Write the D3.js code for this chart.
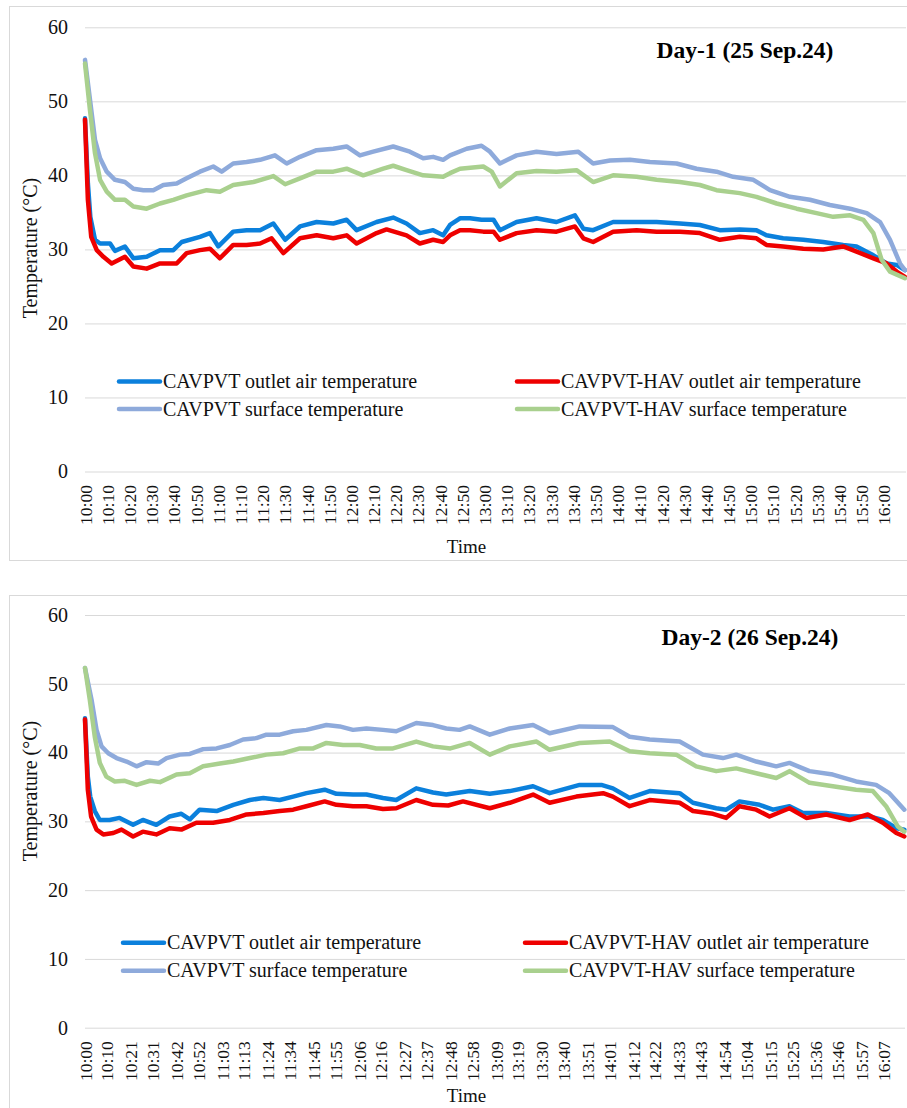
<!DOCTYPE html>
<html>
<head>
<meta charset="utf-8">
<script src="https://cdn.jsdelivr.net/npm/d3@7"></script>
<style>
  html, body { margin: 0; padding: 0; background: #ffffff; }
  svg { display: block; font-family: "Liberation Serif", "Times New Roman", serif; }
</style>
</head>
<body>
<script>
// ---- Series names (legend order) ----
const seriesNames = [
  "CAVPVT outlet air temperature",
  "CAVPVT-HAV outlet air temperature",
  "CAVPVT surface temperature",
  "CAVPVT-HAV surface temperature"
];

const yTickValues = [0, 10, 20, 30, 40, 50, 60];

// ---- Day 1 (25 Sep 2024): category labels and readings [minutes after 10:00, °C] ----
const day1Title = "Day-1 (25 Sep.24)";
const day1TickLabels = ["10:00","10:10","10:20","10:30","10:40","10:50","11:00","11:10","11:20","11:30",
  "11:40","11:50","12:00","12:10","12:20","12:30","12:40","12:50","13:00","13:10","13:20","13:30",
  "13:40","13:50","14:00","14:10","14:20","14:30","14:40","14:50","15:00","15:10","15:20","15:30",
  "15:40","15:50","16:00"];

const day1OutletCAVPVT = [[0,47.7],[1.3,38.9],[2.4,34.4],[4.5,31.3],[6.8,30.8],[11.3,30.8],[13.5,29.8],[18,30.4],
  [21.8,28.8],[27.8,29.0],[33.8,29.9],[39.8,29.9],[43.6,31.0],[51.8,31.7],[56.3,32.2],[60.1,30.4],[66.8,32.4],
  [72.8,32.6],[78.9,32.6],[84.9,33.5],[90.2,31.3],[96.9,33.1],[104.4,33.7],[111.9,33.5],[117.9,34.0],[122.4,32.6],
  [131.4,33.7],[138.9,34.3],[144.9,33.5],[150.9,32.2],[156.9,32.6],[161.4,31.9],[164.5,33.3],[169,34.2],[173.5,34.2],
  [178.7,34.0],[184.1,34.0],[187,32.6],[194.5,33.7],[203.5,34.2],[212.5,33.7],[220.8,34.6],[224.6,32.8],[229,32.6],
  [238,33.7],[248.6,33.7],[257.6,33.7],[268.1,33.5],[277.1,33.3],[286.1,32.6],[295.1,32.7],[302.6,32.6],[307.1,31.9],
  [314.6,31.5],[323.7,31.3],[332.7,31.0],[341.7,30.6],[347.7,30.4],[355.3,29.2],[361.3,28.1],[365.8,27.9],[369.5,27.2]];

const day1OutletHAV = [[0,47.5],[1.3,36.7],[2.8,31.7],[5.3,29.9],[8.3,29.0],[12,28.1],[18,29.0],[21.8,27.7],
  [27.8,27.4],[33.8,28.1],[41.3,28.1],[45.8,29.5],[51.8,29.9],[56.3,30.1],[60.8,28.8],[66.8,30.6],[72.8,30.6],
  [78.9,30.8],[84.1,31.5],[89.4,29.5],[96.9,31.5],[104.4,31.9],[111.9,31.5],[117.9,31.9],[122.4,30.8],[131.4,32.2],
  [135.9,32.7],[144.9,31.9],[150.9,30.8],[156.9,31.3],[161.4,31.0],[164.5,31.9],[169,32.6],[173.5,32.6],[179.5,32.4],
  [184.1,32.4],[187,31.3],[194.5,32.2],[203.5,32.6],[212.5,32.4],[220.8,33.1],[224.6,31.5],[229,31.0],[238,32.4],
  [248.6,32.6],[257.6,32.4],[268.1,32.4],[277.1,32.2],[286.1,31.3],[295.1,31.7],[302.6,31.5],[307.1,30.6],
  [314.6,30.4],[323.7,30.1],[332.7,30.0],[341.7,30.4],[347.7,29.7],[355.3,28.8],[361.3,28.1],[365.8,27.0],[369.5,26.3]];

const day1SurfaceCAVPVT = [[0,55.6],[2.25,50.2],[4.5,44.8],[6.8,42.3],[9.8,40.5],[13.5,39.4],[18,39.1],[21.8,38.2],
  [26.3,38.0],[30.8,38.0],[35.3,38.7],[41.3,38.9],[45.8,39.6],[51.8,40.5],[57.8,41.2],[61.6,40.5],[66.8,41.6],
  [72.8,41.8],[78.9,42.1],[85.6,42.7],[90.9,41.6],[96.9,42.5],[104.4,43.4],[111.9,43.6],[117.9,43.9],[123.9,42.7],
  [129.9,43.2],[138.9,43.9],[146.4,43.2],[152.4,42.3],[156.9,42.5],[161.4,42.1],[164.5,42.7],[172,43.6],[178.7,44.0],
  [182.5,43.2],[187,41.6],[194.5,42.7],[203.5,43.2],[212.5,42.9],[222.3,43.2],[229,41.6],[236.6,42.0],[245.6,42.1],
  [254.6,41.8],[266.6,41.6],[275.6,40.9],[284.6,40.5],[292.1,39.8],[301.2,39.4],[308.7,38.0],[317.7,37.1],
  [326.7,36.7],[335.7,36.0],[344.8,35.5],[352.3,34.9],[358.3,33.7],[362.8,31.3],[367.3,28.1],[369.5,27.2]];

const day1SurfaceHAV = [[0,55.1],[2.25,48.8],[4.5,43.0],[6.8,39.4],[9.8,37.8],[13.5,36.7],[18,36.7],[21.8,35.8],
  [27.8,35.5],[33.8,36.2],[39.8,36.7],[45.8,37.3],[54.8,38.0],[60.8,37.8],[66.8,38.7],[75.9,39.1],[84.9,39.9],
  [90.2,38.8],[96.9,39.6],[104.4,40.5],[111.9,40.5],[117.9,40.9],[125.4,40.0],[134.4,40.9],[138.9,41.3],[144.9,40.7],
  [152.4,40.0],[161.4,39.8],[164.5,40.3],[169,40.9],[179.5,41.2],[183.3,40.5],[187,38.5],[194.5,40.3],[203.5,40.6],
  [212.5,40.5],[221.5,40.7],[229,39.1],[238,40.0],[248.6,39.8],[257.6,39.4],[268.1,39.1],[277.1,38.7],[284.6,38.0],
  [295.1,37.6],[302.6,37.1],[311.7,36.2],[320.7,35.5],[329.7,34.9],[337.2,34.4],[344.8,34.6],[350.8,34.0],
  [355.3,32.2],[359,28.6],[362.8,27.0],[369.5,26.1]];

// ---- Day 2 (26 Sep 2024) ----
const day2Title = "Day-2 (26 Sep.24)";
const day2TickLabels = ["10:00","10:10","10:21","10:31","10:42","10:52","11:03","11:13","11:24","11:34",
  "11:45","11:55","12:06","12:16","12:27","12:37","12:48","12:58","13:09","13:19","13:30","13:40",
  "13:51","14:01","14:12","14:22","14:33","14:43","14:54","15:04","15:15","15:25","15:36","15:46",
  "15:57","16:07"];

const day2OutletCAVPVT = [[0,45.0],[1.3,36.5],[2.4,33.6],[4.5,31.5],[6.8,30.2],[11.3,30.2],[15.9,30.5],[22.1,29.5],
  [26.6,30.2],[32.8,29.5],[38.9,30.7],[44.3,31.1],[48.2,30.3],[52.7,31.7],[60.5,31.5],[68.2,32.4],[75.8,33.1],
  [82,33.4],[89.5,33.1],[95.7,33.6],[101.8,34.1],[110.2,34.6],[115.6,34.0],[123.2,33.9],[129.4,33.9],[137,33.4],
  [143.1,33.1],[152.3,34.8],[160,34.2],[166.1,33.9],[176.9,34.4],[186.1,34.0],[195.3,34.4],[206,35.1],[213.6,34.1],
  [227.4,35.3],[237.4,35.3],[242.7,34.8],[250.4,33.4],[259.6,34.4],[273.4,34.1],[279.5,32.7],[290.2,31.9],
  [294.8,31.7],[300.9,32.9],[310.1,32.4],[316.3,31.7],[323.9,32.2],[330.1,31.2],[340.8,31.2],[351.5,30.7],
  [360.7,30.7],[366.8,30.2],[373,29.0],[376.7,28.8]];

const day2OutletHAV = [[0,44.8],[1.3,34.6],[2.8,30.7],[5.3,28.8],[8.4,28.1],[13,28.3],[16.8,28.8],[22.1,27.8],
  [26.6,28.5],[32.8,28.1],[38.9,29.0],[44.3,28.8],[51.2,29.8],[58.9,29.8],[66.6,30.2],[74.3,31.0],[82,31.2],
  [89.5,31.5],[95.7,31.7],[101.8,32.2],[110.2,32.9],[115.6,32.4],[123.2,32.2],[129.4,32.2],[137,31.8],[143.1,31.9],
  [152.3,33.1],[160,32.4],[167,32.3],[173.8,32.9],[186.1,31.9],[195.3,32.7],[206,33.9],[213.6,32.7],[225.9,33.6],
  [238.2,34.1],[242.7,33.6],[250.4,32.2],[259.6,33.1],[273.4,32.7],[279.5,31.5],[288.7,31.1],[294.8,30.5],
  [300.9,32.2],[308.6,31.7],[314.7,30.7],[323.9,31.9],[331.6,30.5],[340.8,31.0],[351.5,30.2],[359.9,31.0],
  [366.8,29.8],[373,28.3],[376.7,27.8]];

const day2SurfaceCAVPVT = [[0,52.3],[3,47.7],[5.3,43.3],[7.6,40.9],[10.7,39.9],[14.5,39.2],[19.1,38.7],[23.7,38.0],
  [28.3,38.6],[33.6,38.4],[37.5,39.2],[43.6,39.7],[48.2,39.8],[54.3,40.5],[60.5,40.6],[66.6,41.1],[72.7,41.9],
  [78.8,42.1],[83.4,42.6],[89.5,42.6],[95.7,43.1],[101.8,43.3],[111,44.0],[117.1,43.8],[123.2,43.3],[129.4,43.5],
  [137,43.3],[143.1,43.1],[152.3,44.3],[160,44.0],[166.1,43.5],[172.2,43.3],[176.9,43.8],[186.1,42.6],[195.3,43.5],
  [206,44.0],[213.6,42.8],[227.4,43.8],[242.7,43.7],[250.4,42.3],[259.6,41.9],[273.4,41.6],[284.1,39.7],
  [293.3,39.2],[299.4,39.7],[308.6,38.7],[317.8,38.0],[323.9,38.5],[333.1,37.3],[343.8,36.8],[354.5,35.8],
  [363.7,35.3],[369.8,34.1],[376.7,31.7]];

const day2SurfaceHAV = [[0,52.3],[2.2,47.7],[4.5,42.3],[6.8,38.5],[9.8,36.5],[13.7,35.8],[18.3,35.9],[23.7,35.3],
  [29.9,35.9],[34.5,35.7],[42.1,36.8],[48.2,37.0],[54.3,38.0],[62,38.4],[68.2,38.7],[75.8,39.2],[83.4,39.7],
  [91.1,39.9],[98.8,40.6],[104.9,40.6],[111,41.4],[118.6,41.1],[126.3,41.1],[133.9,40.6],[141.6,40.6],[152.3,41.6],
  [160,40.9],[168,40.6],[176.9,41.4],[186.1,39.7],[195.3,40.9],[207.6,41.6],[213.6,40.4],[227.4,41.4],[241.2,41.6],
  [250.4,40.2],[259.6,39.9],[271.8,39.7],[281,38.0],[290.2,37.3],[299.4,37.7],[308.6,37.0],[317.8,36.3],
  [323.9,37.3],[333.1,35.6],[343.8,35.1],[354.5,34.6],[362.2,34.4],[368.3,32.2],[373.6,29.3],[376.7,28.5]];

// ---- Styling ----
const seriesColors = ["#0b80dc", "#ee0000", "#8eaadb", "#a9d08e"];
const gridColor = "#d9d9d9";
const textColor = "#111111";

const W = 907, H = 1108;
const svg = d3.select("body").append("svg").attr("width", W).attr("height", H);
svg.append("rect").attr("width", W).attr("height", H).attr("fill", "#ffffff");

// minutes after 10:00 for an "HH:MM" label
const toMinutes = s => { const [h, m] = s.split(":").map(Number); return (h - 10) * 60 + m; };

function drawPanel(p) {
  const g = svg.append("g");

  // chart frame
  g.append("rect")
    .attr("x", p.frame.x).attr("y", p.frame.y)
    .attr("width", p.frame.w).attr("height", p.frame.h)
    .attr("fill", "none").attr("stroke", gridColor).attr("stroke-width", 1);

  const x = d3.scaleLinear().domain([0, p.endMinute]).range([p.left, p.right]);
  const y = d3.scaleLinear().domain([0, 60]).range([p.zeroY, p.topY]);

  // value axis with horizontal gridlines
  const yAxis = g.append("g")
    .attr("transform", `translate(${p.left},0)`)
    .call(d3.axisLeft(y).tickValues(yTickValues).tickFormat(d3.format("d"))
      .tickSizeInner(-(p.right - p.left)).tickSizeOuter(0).tickPadding(17));
  yAxis.select(".domain").remove();
  yAxis.selectAll(".tick line").attr("stroke", gridColor).attr("stroke-width", 1);
  yAxis.selectAll(".tick text")
    .attr("fill", textColor).style("font-size", "20px")
    .style("font-family", "'Liberation Serif', 'Times New Roman', serif");

  // category axis with rotated time labels
  const xAxis = g.append("g")
    .attr("transform", `translate(0,${p.zeroY})`)
    .call(d3.axisBottom(x)
      .tickValues(p.tickLabels.map(toMinutes))
      .tickFormat((d, i) => p.tickLabels[i])
      .tickSize(0));
  xAxis.select(".domain").remove();
  xAxis.selectAll(".tick text")
    .attr("transform", "rotate(-90)")
    .attr("text-anchor", "end")
    .attr("x", -13.5).attr("y", 0).attr("dy", "0.35em")
    .attr("fill", textColor).style("font-size", "17.5px")
    .style("font-family", "'Liberation Serif', 'Times New Roman', serif");

  // series lines
  const line = d3.line().x(d => x(d[0])).y(d => y(d[1]));
  p.series.forEach((s, i) => {
    g.append("path")
      .datum(s)
      .attr("d", line)
      .attr("fill", "none")
      .attr("stroke", seriesColors[i])
      .attr("stroke-width", 4.5)
      .attr("stroke-linejoin", "round")
      .attr("stroke-linecap", "round");
  });

  // title
  g.append("text")
    .attr("x", p.titleX).attr("y", p.titleY)
    .attr("text-anchor", "middle")
    .attr("fill", "#000").style("font-size", "23.5px").style("font-weight", "bold")
    .text(p.title);

  // axis titles
  g.append("text")
    .attr("transform", `translate(30,${p.yTitleY}) rotate(-90)`)
    .attr("text-anchor", "middle").attr("dy", "0.35em")
    .attr("fill", textColor).style("font-size", "20px")
    .text("Temperature (°C)");

  g.append("text")
    .attr("x", 466.5).attr("y", p.xTitleY)
    .attr("text-anchor", "middle")
    .attr("fill", textColor).style("font-size", "19px")
    .text("Time");

  // legend: two rows, two columns
  const legendCols = [p.legendX1, p.legendX2];
  const legendRows = [p.legendY1, p.legendY2];
  seriesNames.forEach((name, i) => {
    const lx = legendCols[i % 2];
    const ly = legendRows[Math.floor(i / 2)];
    g.append("line")
      .attr("x1", lx).attr("x2", lx + 41)
      .attr("y1", ly).attr("y2", ly)
      .attr("stroke", seriesColors[i]).attr("stroke-width", 4.5)
      .attr("stroke-linecap", "round");
    g.append("text")
      .attr("x", lx + 44).attr("y", ly).attr("dy", "0.33em")
      .attr("fill", textColor).style("font-size", "20px")
      .text(name);
  });
}

drawPanel({
  frame: { x: 9.5, y: 6.5, w: 930, h: 554 },
  left: 85, right: 906, endMinute: 370,
  zeroY: 471.5, topY: 27.3,
  tickLabels: day1TickLabels,
  series: [day1OutletCAVPVT, day1OutletHAV, day1SurfaceCAVPVT, day1SurfaceHAV],
  title: day1Title, titleX: 745, titleY: 57.5,
  yTitleY: 248, xTitleY: 553,
  legendX1: 119, legendX2: 517, legendY1: 381.5, legendY2: 409
});

drawPanel({
  frame: { x: 9.5, y: 595.5, w: 930, h: 600 },
  left: 85, right: 905, endMinute: 377,
  zeroY: 1027.7, topY: 615,
  tickLabels: day2TickLabels,
  series: [day2OutletCAVPVT, day2OutletHAV, day2SurfaceCAVPVT, day2SurfaceHAV],
  title: day2Title, titleX: 750, titleY: 645,
  yTitleY: 791, xTitleY: 1101.5,
  legendX1: 123, legendX2: 525, legendY1: 942.7, legendY2: 970.7
});
</script>
</body>
</html>
